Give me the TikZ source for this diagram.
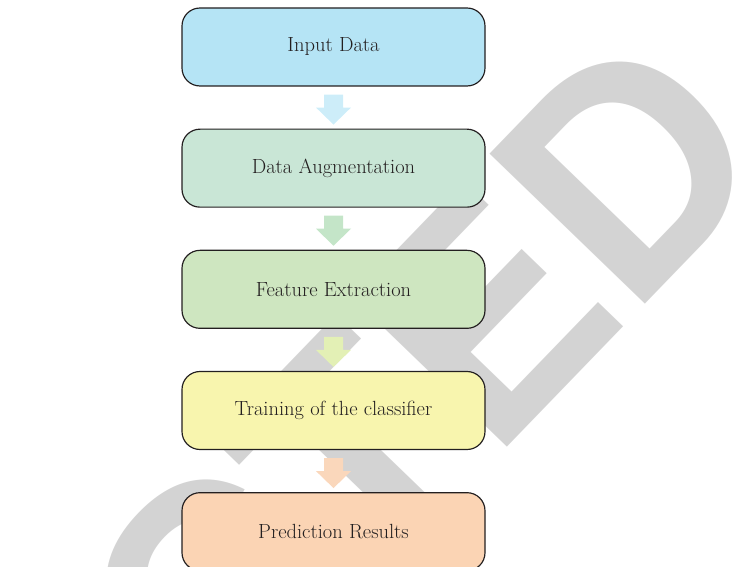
\documentclass[tikz,border=0pt]{standalone}
\usepackage{fontspec}
\usetikzlibrary{positioning,calc}
\newfontfamily\stampfont{Liberation Sans}[FakeStretch=0.95]
\definecolor{boxA}{HTML}{B5E4F5}
\definecolor{boxB}{HTML}{C9E6D6}
\definecolor{boxC}{HTML}{CEE6C0}
\definecolor{boxD}{HTML}{F8F5AE}
\definecolor{boxE}{HTML}{FBD4B4}
\definecolor{arrA}{HTML}{CDEDF9}
\definecolor{arrB}{HTML}{C4E5C8}
\definecolor{arrC}{HTML}{E3F0B5}
\definecolor{arrD}{HTML}{FAD7BB}
\definecolor{stamp}{HTML}{D3D3D3}
\definecolor{ink}{HTML}{231F20}

\begin{document}
\begin{tikzpicture}[
    stage/.style={draw=ink,line width=1pt,rounded corners=0.54cm,minimum width=9.09cm,minimum height=2.34cm,
                  text=ink,font=\fontsize{17.5}{20}\selectfont},
    node distance=1.26cm]
  \useasboundingbox (0,0) rectangle (22.62,17.01);
  % watermark
  \begin{scope}
    \clip (0,0) rectangle (22.62,17.01);
    \node[anchor=base east,rotate=46,text=stamp,inner sep=0pt,font={\stampfont\bfseries\fontsize{268}{268}\selectfont}] (stampword) at (23.45,12.1) {RETRACTED};
  \end{scope}
  % stages
  \node[stage,fill=boxA] (input) at (10.005,15.6) {Input Data};
  \node[stage,fill=boxB,below=of input] (augment) {Data Augmentation};
  \node[stage,fill=boxC,below=of augment] (feature) {Feature Extraction};
  \node[stage,fill=boxD,below=of feature] (train) {Training of the classifier};
  \node[stage,fill=boxE,below=of train] (predict) {Prediction Results};
  % block arrows
  \foreach \a/\b/\c in {input/augment/arrA,augment/feature/arrB,feature/train/arrC,train/predict/arrD}
    \fill[\c] ($(\a.south)+(-0.285,-0.24)$) -- ++(0.57,0) -- ++(0,-0.39) -- ++(0.24,0)
      -- ($(\b.north)+(0,0.12)$) -- ($(\a.south)+(-0.525,-0.63)$) -- ++(0.24,0) -- cycle;
\end{tikzpicture}
\end{document}
